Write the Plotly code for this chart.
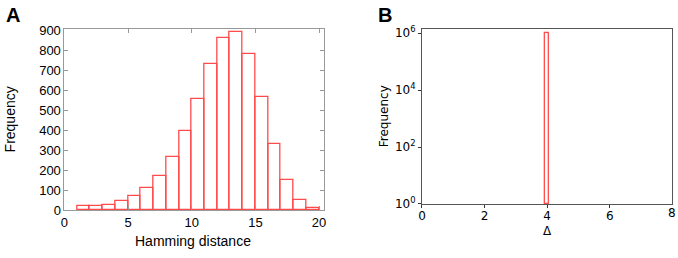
import plotly.graph_objects as go

# Panel A: Hamming distance histogram (bins of width 1)
hamming_bin_left = [1, 2, 3, 4, 5, 6, 7, 8, 9, 10, 11, 12, 13, 14, 15, 16, 17, 18, 19]
hamming_freq = [22, 21, 28, 44, 69, 111, 172, 267, 397, 558, 730, 862, 890, 782, 568, 331, 150, 49, 12]

# Panel B: Delta histogram (log scale)
delta_center = [4.0]
delta_freq = [1.0e6]
delta_width = 0.12

RED = "rgb(255,75,75)"

fig = go.Figure()

fig.add_trace(go.Bar(
    x=[v + 0.5 for v in hamming_bin_left], y=hamming_freq, width=1.0,
    marker=dict(color="rgba(255,255,255,0)", line=dict(color=RED, width=1.3)),
    xaxis="x", yaxis="y", showlegend=False, hoverinfo="skip",
))

fig.add_trace(go.Bar(
    x=delta_center, y=delta_freq, base=[1] * len(delta_freq), width=delta_width,
    marker=dict(color="rgba(255,255,255,0)", line=dict(color=RED, width=1.3)),
    xaxis="x2", yaxis="y2", showlegend=False, hoverinfo="skip",
))

fontA = dict(family="Liberation Sans, Arial", size=13, color="black")
fontAt = dict(family="Liberation Sans, Arial", size=14, color="black")
fontB = dict(family="DejaVu Sans", size=12, color="black")

fig.update_layout(
    width=678, height=258,
    margin=dict(l=0, r=0, t=0, b=0),
    paper_bgcolor="white", plot_bgcolor="white",
    bargap=0,
    xaxis=dict(
        domain=[61 / 678, 323 / 678], range=[0, 20.4],
        tickvals=[0, 5, 10, 15, 20], ticks="inside", ticklen=4, tickcolor="#999",
        showline=True, linecolor="#999", linewidth=1, mirror="ticks",
        showgrid=False, zeroline=False, tickfont=fontA, anchor="y",
    ),
    yaxis=dict(
        domain=[(258 - 216) / 258, (258 - 24.3) / 258], range=[0, 905],
        tickvals=list(range(0, 1000, 100)), ticks="inside", ticklen=4, tickcolor="#999",
        showline=True, linecolor="#999", linewidth=1, mirror="ticks",
        showgrid=False, zeroline=False, tickfont=fontA, anchor="x",
    ),
    xaxis2=dict(
        domain=[421.7 / 678, 674.3 / 678], range=[0, 8],
        tickvals=[0, 2, 4, 6], ticks="outside", ticklen=3, tickcolor="#333",
        showline=True, linecolor="#555", linewidth=1, mirror=True,
        showgrid=False, zeroline=False, tickfont=fontB, anchor="y2",
        ticklabelstandoff=-2,
    ),
    yaxis2=dict(
        type="log",
        domain=[(258 - 209.3) / 258, (258 - 24.3) / 258], range=[0, 6.145],
        tickvals=[1, 1e2, 1e4, 1e6],
        ticktext=["10<sup>0</sup>", "10<sup>2</sup>", "10<sup>4</sup>", "10<sup>6</sup>"],
        ticks="outside", ticklen=3, tickcolor="#333",
        showline=True, linecolor="#555", linewidth=1, mirror=True,
        showgrid=False, zeroline=False, tickfont=fontB, anchor="x2",
    ),
    annotations=[
        dict(text="<b>A</b>", x=9, y=10, showarrow=False,
             font=dict(family="Liberation Sans, Arial", size=20, color="black")),
        dict(text="<b>B</b>", x=384, y=10, showarrow=False,
             font=dict(family="Liberation Sans, Arial", size=20, color="black")),
        dict(text="Hamming distance", x=190.5, y=248, showarrow=False, font=fontAt),
        dict(text="Frequency", x=7, y=120, textangle=-90, showarrow=False, font=fontAt),
        dict(text="Frequency", x=383, y=117, textangle=-90, showarrow=False, font=fontB),
        dict(text="Δ", x=548, y=238, showarrow=False, font=fontB),
        dict(text="8", x=673.5, y=219, showarrow=False, font=fontB),
    ],
)

# convert pixel annotation positions to paper coordinates
for a in fig.layout.annotations:
    a.xref = "paper"
    a.yref = "paper"
    a.x = a.x / 678
    a.y = (258 - a.y) / 258
    a.xanchor = "center"
    a.yanchor = "middle"

fig.write_html("out.html", config={"displayModeBar": False},
               post_script="document.body.style.margin='0';")
